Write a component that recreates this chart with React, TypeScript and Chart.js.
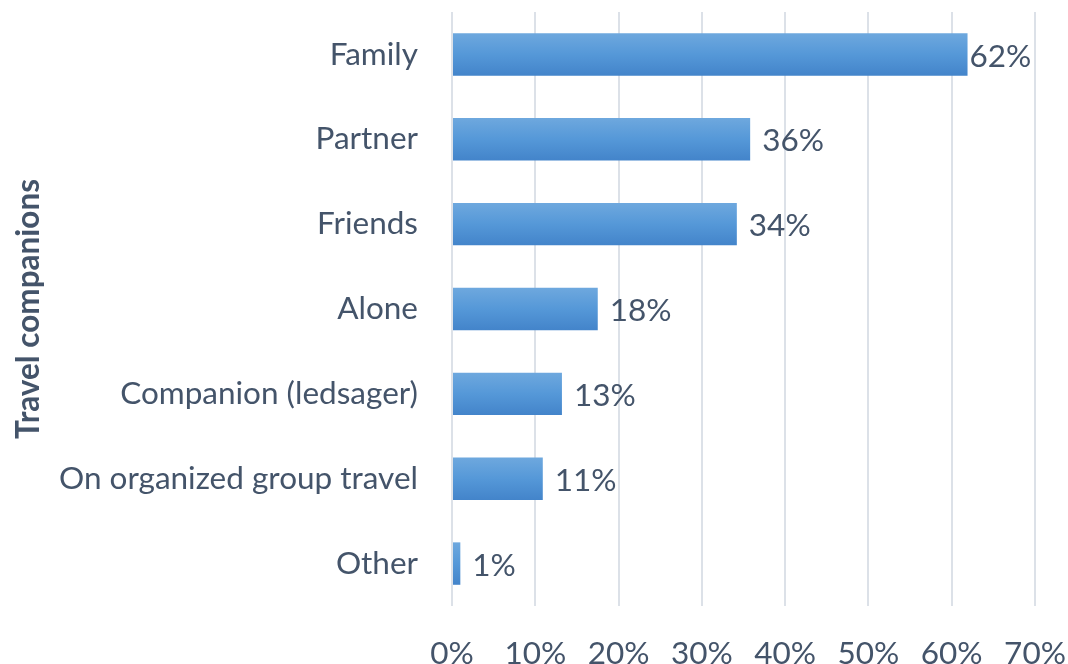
import React, { useEffect, useRef } from "react";
import { Chart, registerables } from "chart.js";

Chart.register(...registerables);

const categories = [
  "Family",
  "Partner",
  "Friends",
  "Alone",
  "Companion (ledsager)",
  "On organized group travel",
  "Other",
];
const shares = [61.9, 35.8, 34.2, 17.5, 13.2, 10.9, 1.0];
const axisTitle = "Travel companions";
const xMin = 0;
const xMax = 70;
const xStep = 10;

const TEXT = "#44546A";
const FONT = "Lato";
const FS = 31.5;

const labelPlugin = {
  id: "barValueLabels",
  afterDatasetsDraw(chart: any) {
    const meta = chart.getDatasetMeta(0);
    const c = chart.ctx;
    c.save();
    c.font = `${FS}px ${FONT}`;
    c.fillStyle = TEXT;
    c.textBaseline = "middle";
    c.textAlign = "left";
    meta.data.forEach((bar: any, i: number) => {
      const txt = Math.round(shares[i]) + "%";
      const w = c.measureText(txt).width;
      let x = bar.x + 12;
      if (x + w > chart.chartArea.right) x = bar.x + 2;
      c.fillText(txt, x, bar.y + 2);
    });
    c.restore();
  },
};

export default function App() {
  const ref = useRef<HTMLCanvasElement | null>(null);

  useEffect(() => {
    document.body.style.margin = "0";
    const canvas = ref.current;
    if (!canvas) return;
    const chart = new Chart(canvas, {
      type: "bar",
      data: {
        labels: categories,
        datasets: [
          {
            data: shares,
            categoryPercentage: 1,
            barPercentage: 0.5,
            backgroundColor: (ctx: any) => {
              const ch = ctx.chart;
              const y = ch.scales && ch.scales.y;
              if (!ch.chartArea || !y || ctx.dataIndex === undefined) return "#5B9BD5";
              const yc = y.getPixelForValue(ctx.dataIndex);
              const band = Math.abs(y.getPixelForValue(1) - y.getPixelForValue(0));
              const h = band * 0.5;
              const g = ch.ctx.createLinearGradient(0, yc - h / 2, 0, yc + h / 2);
              g.addColorStop(0, "#6EA8DE");
              g.addColorStop(0.5, "#5598D8");
              g.addColorStop(1, "#4384CA");
              return g;
            },
            borderWidth: 0,
          },
        ],
      },
      options: {
        indexAxis: "y",
        animation: false,
        responsive: false,
        maintainAspectRatio: false,
        layout: { padding: { left: 0, right: 33, top: 12, bottom: 0 } },
        plugins: {
          legend: { display: false },
          tooltip: { enabled: false },
        },
        scales: {
          x: {
            min: xMin,
            max: xMax,
            ticks: {
              stepSize: xStep,
              padding: 29,
              color: TEXT,
              font: { family: FONT, size: FS },
              callback: (v: any) => v + "%",
              maxRotation: 0,
            },
            grid: { color: "#DCE1E8", lineWidth: 2, drawTicks: false },
            border: { display: false },
            afterFit: (s: any) => {
              s.height = 58;
              s.paddingLeft = 0;
              s.paddingRight = 0;
            },
          },
          y: {
            ticks: {
              padding: 34,
              color: TEXT,
              font: { family: FONT, size: FS },
            },
            grid: { display: false, drawTicks: false },
            border: { display: false },
            title: {
              display: true,
              text: axisTitle,
              color: TEXT,
              font: { family: FONT, size: FS, weight: "bold" },
              padding: { top: 10, bottom: 0 },
            },
            afterFit: (s: any) => {
              s.width = 452;
              s.paddingTop = 0;
              s.paddingBottom = 0;
            },
          },
        },
      },
      plugins: [labelPlugin],
    });
    return () => chart.destroy();
  }, []);

  return (
    <div style={{ width: 1068, height: 664, background: "#fff" }}>
      <canvas ref={ref} width={1068} height={664} style={{ display: "block" }} />
    </div>
  );
}
